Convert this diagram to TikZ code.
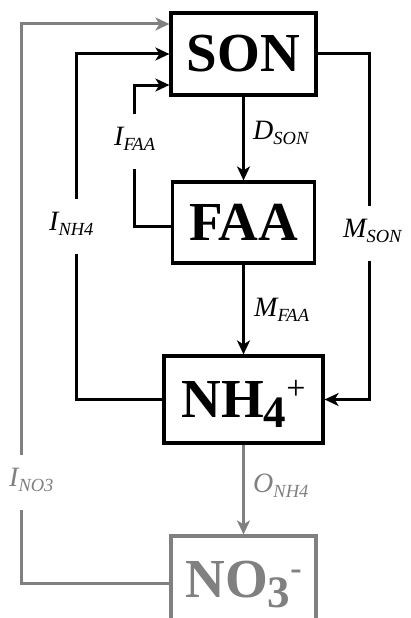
\documentclass[tikz,border=0pt]{standalone}
\usepackage{fontspec}
\setmainfont{Liberation Serif}
\usetikzlibrary{arrows.meta}
\newcommand{\fluxsub}[2]{#1\raisebox{-5.5pt}{\fontsize{18.5}{18.5}\selectfont #2}}
\newcommand{\ionsub}[3]{#1\smash{\raisebox{-10pt}{\fontsize{45}{45}\selectfont #2}\raisebox{18pt}{\fontsize{34}{34}\selectfont #3}}}
\begin{document}
\begin{tikzpicture}[x=1pt, y=-1pt,
  poolbox/.style = {draw, line width=3.2pt, inner sep=0pt, font=\fontsize{55}{55}\selectfont\bfseries},
  flow/.style = {line width=3pt, -{Stealth[length=14pt, width=13pt, inset=4pt]}},
  fluxlbl/.style = {inner sep=0pt, anchor=base west, font=\fontsize{28}{28}\selectfont\itshape},
  gaplbl/.style = {fluxlbl, fill=white, text height=27pt, text depth=20pt, inner ysep=4pt}
]
  \clip (0,0) rectangle (411,618);
  % pools
  \node[poolbox, minimum width=145pt, minimum height=82pt] (son) at (243.5,54) {SON};
  \node[poolbox, minimum width=142pt, minimum height=81pt] (faa) at (243.5,222.5) {FAA};
  \node[poolbox, minimum width=159pt, minimum height=87pt] (nh4) at (243.5,399.5)
    {\ionsub{NH}{4}{\mdseries +}};
  \node[poolbox, draw=gray, text=gray, minimum width=145pt, minimum height=88pt] (no3) at (243.5,580)
    {\ionsub{NO}{3}{-}};
  % fluxes down the chain
  \draw[flow] (son) -- (faa);
  \draw[flow] (faa) -- (nh4);
  \draw[flow, gray] (nh4) -- (no3);
  \node[fluxlbl] (dson) at (253,139) {\fluxsub{D}{SON}};
  \node[fluxlbl] (mfaa) at (254,316) {\fluxsub{M}{FAA}};
  \node[fluxlbl, text=gray] (onh4) at (253,492) {\fluxsub{O}{NH4}};
  % loops back and bypass
  \draw[flow] ([yshift=-3.5pt]faa.west) -- ++(-36,0) |- ([yshift=-31pt]son.west);
  \draw[flow] (nh4.west) -- ++(-86,0) |- (son.west);
  \draw[flow] (son.east) -- ++(52,0) |- (nh4.east);
  \draw[flow, gray] ([yshift=-3pt]no3.west) -- ++(-148,0) |- ([yshift=30pt]son.west);
  \node[gaplbl] (ifaa) at (114,145) {\fluxsub{I}{FAA}};
  \node[gaplbl] (inh4) at (49,230) {\fluxsub{I}{NH4}};
  \node[gaplbl] (mson) at (343,237) {\fluxsub{M}{SON}};
  \node[gaplbl, text=gray] (ino3) at (9,486) {\fluxsub{I}{NO3}};
\end{tikzpicture}
\end{document}
